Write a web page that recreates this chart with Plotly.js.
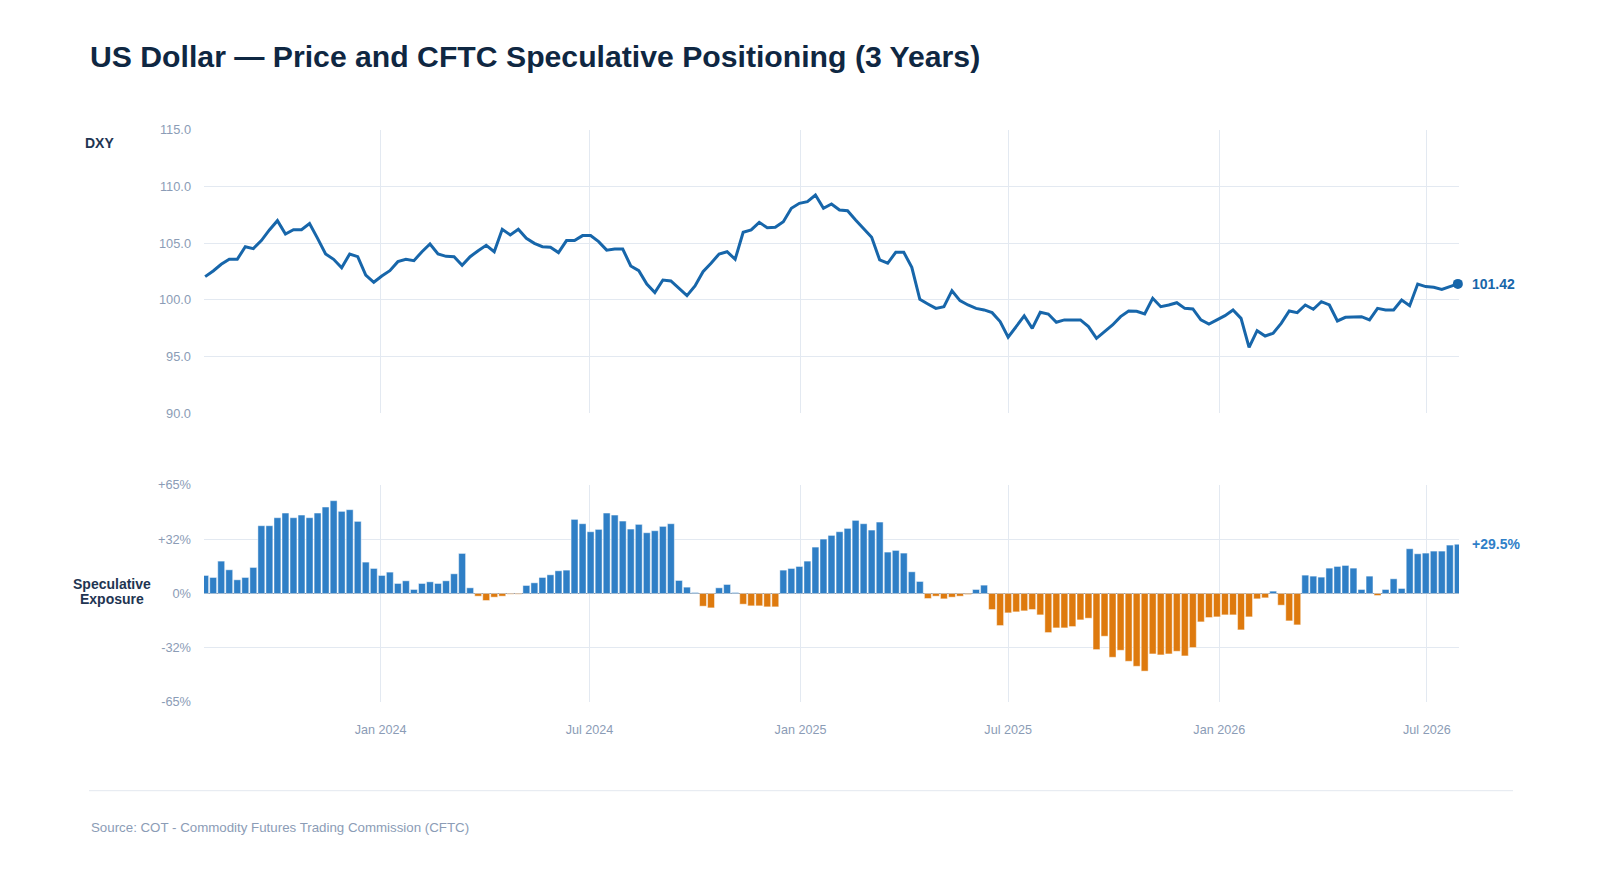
<!DOCTYPE html>
<html>
<head>
<meta charset="utf-8">
<script src="https://cdn.plot.ly/plotly-3.0.1.min.js"></script>
<style>
  html, body { margin: 0; padding: 0; background: #ffffff; }
  #chart { width: 1600px; height: 889px; }
</style>
</head>
<body>
<div id="chart"></div>
<script>
// ---- Data (weekly, COT report Tuesdays) ----
const startDate = '2023-08-01';   // first weekly observation
const weekCount = 157;            // number of weekly observations

const dxyValues = [
  102.06, 102.56, 103.15, 103.59, 103.59, 104.70, 104.53, 105.24, 106.18, 107.00,
  105.82, 106.20, 106.20, 106.74, 105.44, 104.06, 103.59, 102.85, 104.06, 103.82,
  102.20, 101.56, 102.12, 102.59, 103.38, 103.59, 103.47, 104.26, 104.94, 104.06,
  103.85, 103.82, 103.06, 103.82, 104.35, 104.82, 104.26, 106.24, 105.74, 106.24,
  105.44, 105.00, 104.70, 104.65, 104.18, 105.24, 105.24, 105.68, 105.68, 105.15,
  104.40, 104.50, 104.50, 103.00, 102.59, 101.41, 100.65, 101.76, 101.68, 101.03,
  100.38, 101.24, 102.50, 103.24, 104.06, 104.26, 103.59, 105.97, 106.18, 106.85,
  106.38, 106.41, 106.91, 108.09, 108.53, 108.68, 109.26, 108.09, 108.47, 107.94,
  107.88, 107.06, 106.26, 105.53, 103.53, 103.24, 104.21, 104.21, 102.88, 100.06,
  99.65, 99.26, 99.41, 100.82, 99.94, 99.56, 99.26, 99.12, 98.88, 98.10,
  96.71, 97.65, 98.59, 97.50, 98.91, 98.76, 98.03, 98.24, 98.24, 98.24,
  97.65, 96.62, 97.21, 97.79, 98.53, 99.03, 99.00, 98.76, 100.15, 99.41,
  99.56, 99.76, 99.26, 99.21, 98.24, 97.88, 98.24, 98.62, 99.12, 98.38,
  95.82, 97.29, 96.82, 97.06, 97.94, 99.03, 98.88, 99.56, 99.18, 99.85,
  99.56, 98.15, 98.47, 98.53, 98.53, 98.24, 99.26, 99.12, 99.12, 100.00,
  99.50, 101.41, 101.18, 101.12, 100.94, 101.18, 101.42
];

const exposureValues = [
  10.8, 9.6, 19.4, 14.2, 8.2, 9.6, 15.6, 40.6, 40.6, 45.4,
  48.2, 45.4, 47.0, 45.4, 48.2, 51.8, 55.6, 49.2, 50.2, 43.2,
  18.8, 15.0, 10.8, 12.8, 6.0, 7.6, 2.4, 6.0, 7.0, 6.0,
  7.6, 11.8, 24.0, 3.4, -1.6, -4.2, -2.2, -1.6, -0.4, -0.4,
  4.8, 6.4, 9.6, 11.2, 13.6, 14.0, 44.4, 41.8, 37.0, 38.4,
  48.2, 47.0, 43.4, 38.6, 41.4, 36.4, 37.6, 40.2, 41.8, 7.8,
  3.8, 0.6, -7.6, -8.6, 3.4, 5.4, 0.6, -6.4, -7.4, -7.4,
  -8.0, -8.0, 14.0, 15.0, 16.2, 19.4, 27.8, 32.6, 34.8, 37.0,
  39.0, 43.8, 41.8, 38.0, 42.8, 24.8, 25.8, 24.2, 13.0, 7.2,
  -3.0, -1.6, -3.2, -2.2, -1.6, -0.6, 2.4, 5.0, -9.6, -19.2,
  -11.6, -11.0, -10.4, -9.6, -12.8, -23.4, -20.6, -20.6, -19.8, -15.8,
  -14.8, -33.6, -25.6, -38.2, -34.0, -40.6, -43.6, -46.5, -36.2, -36.8,
  -36.2, -34.6, -37.4, -32.4, -17.0, -14.4, -14.0, -12.8, -12.8, -21.8,
  -14.0, -3.2, -2.6, 1.4, -7.0, -16.4, -18.8, 11.0, 10.4, 9.8,
  15.2, 16.2, 16.8, 15.2, 2.4, 10.4, -1.2, 2.4, 8.8, 3.0,
  26.8, 23.8, 24.2, 25.4, 25.4, 29.0, 29.5
];

const dxyTickVals = [90, 95, 100, 105, 110, 115];
const exposureTickVals = [-65, -32.5, 0, 32.5, 65];
const exposureTickText = ['-65%', '-32%', '0%', '+32%', '+65%'];

const titleText = 'US Dollar — Price and CFTC Speculative Positioning (3 Years)';
const sourceText = 'Source: COT - Commodity Futures Trading Commission (CFTC)';

// ---- Build weekly date categories ----
const weekDates = [];
{
  const d0 = new Date(startDate + 'T00:00:00Z');
  for (let i = 0; i < weekCount; i++) {
    const d = new Date(d0.getTime() + i * 7 * 86400000);
    weekDates.push(d.toISOString().slice(0, 10));
  }
}

const BLUE_LINE = '#1766aa';
const BLUE_BAR = '#2f7fc6';
const ORANGE_BAR = '#de7a0e';
const GRID = '#e3e9f1';
const TICK = '#8b9cb6';
const NAVY = '#1f3552';

const barColors = exposureValues.map(v => v >= 0 ? BLUE_BAR : ORANGE_BAR);
const lastIdx = weekCount - 1;
const lastDate = weekDates[lastIdx];
const lastDxy = dxyValues[lastIdx];
const lastExp = exposureValues[lastIdx];

const data = [
  {
    type: 'scatter', mode: 'lines',
    x: weekDates, y: dxyValues,
    xaxis: 'x2', yaxis: 'y2',
    line: { color: BLUE_LINE, width: 3 },
    hoverinfo: 'skip'
  },
  {
    type: 'scatter', mode: 'markers',
    x: [lastDate], y: [lastDxy],
    xaxis: 'x2', yaxis: 'y2',
    marker: { color: BLUE_LINE, size: 10 },
    cliponaxis: false,
    hoverinfo: 'skip'
  },
  {
    type: 'bar',
    x: weekDates, y: exposureValues,
    xaxis: 'x', yaxis: 'y',
    marker: { color: barColors, line: { color: 'rgba(255,255,255,0.45)', width: 1 } },
    hoverinfo: 'skip'
  }
];

// pixel helpers for paper coordinates
const PL = 204, PR = 1459, PT = 130, PB = 702;
const px = v => (v - PL) / (PR - PL);
const py = v => (PB - v) / (PB - PT);

const layout = {
  width: 1600, height: 889,
  margin: { l: PL, r: 1600 - PR, t: PT, b: 889 - PB, pad: 0 },
  paper_bgcolor: '#ffffff', plot_bgcolor: '#ffffff',
  font: { family: '"Liberation Sans", Arial, Helvetica, sans-serif', color: TICK },
  showlegend: false,
  bargap: 0.14,
  title: {
    text: titleText,
    xref: 'container', yref: 'container',
    x: 90 / 1600, xanchor: 'left',
    y: 1 - 56 / 889, yanchor: 'middle',
    font: { size: 30.2, color: '#0f2742', weight: 700 }
  },
  xaxis: {
    type: 'date', anchor: 'y', domain: [0, 1],
    range: ['2023-07-31', '2026-07-29'],
    tick0: '2024-01-01', dtick: 'M6', tickformat: '%b %Y',
    showgrid: true, gridcolor: GRID, gridwidth: 1,
    zeroline: false, showline: false, ticks: '',
    tickfont: { size: 12.6, color: TICK },
    ticklabelstandoff: 18
  },
  xaxis2: {
    type: 'date', anchor: 'y2', matches: 'x',
    tick0: '2024-01-01', dtick: 'M6',
    showgrid: true, gridcolor: GRID, gridwidth: 1,
    showticklabels: false, zeroline: false, showline: false, ticks: ''
  },
  yaxis: {
    domain: [0, py(485)], range: [-65, 65],
    tickvals: exposureTickVals, ticktext: exposureTickText,
    showgrid: true, gridcolor: GRID, gridwidth: 1,
    zeroline: true, zerolinecolor: '#75859a', zerolinewidth: 1.5,
    showline: false, ticks: '',
    tickfont: { size: 12.8, color: TICK },
    ticklabelstandoff: 12
  },
  yaxis2: {
    domain: [py(413.3), 1], range: [90, 115],
    tickvals: dxyTickVals, tickformat: '.1f',
    showgrid: true, gridcolor: GRID, gridwidth: 1,
    zeroline: false, showline: false, ticks: '',
    tickfont: { size: 12.8, color: TICK },
    ticklabelstandoff: 12
  },
  annotations: [
    { text: 'DXY', xref: 'paper', yref: 'paper', x: px(83), y: py(143),
      xanchor: 'left', yanchor: 'middle', showarrow: false,
      font: { size: 14, color: NAVY, weight: 700 } },
    { text: 'Speculative', xref: 'paper', yref: 'paper', x: px(112), y: py(584),
      xanchor: 'center', yanchor: 'middle', showarrow: false,
      font: { size: 14, color: NAVY, weight: 700 } },
    { text: 'Exposure', xref: 'paper', yref: 'paper', x: px(112), y: py(599),
      xanchor: 'center', yanchor: 'middle', showarrow: false,
      font: { size: 14, color: NAVY, weight: 700 } },
    { text: lastDxy.toFixed(2), xref: 'x2', yref: 'y2', x: lastDate, y: lastDxy,
      xanchor: 'left', yanchor: 'middle', xshift: 12, showarrow: false,
      font: { size: 14, color: '#1766aa', weight: 700 } },
    { text: (lastExp >= 0 ? '+' : '') + lastExp.toFixed(1) + '%', xref: 'x', yref: 'y',
      x: lastDate, y: lastExp,
      xanchor: 'left', yanchor: 'middle', xshift: 12, showarrow: false,
      font: { size: 14, color: '#2f80c8', weight: 700 } },
    { text: sourceText, xref: 'paper', yref: 'paper', x: px(89), y: py(827),
      xanchor: 'left', yanchor: 'middle', showarrow: false,
      font: { size: 13.3, color: TICK } }
  ],
  shapes: [
    { type: 'line', xref: 'paper', yref: 'paper',
      x0: px(89), x1: px(1513), y0: py(790.7), y1: py(790.7),
      line: { color: '#e3e8ef', width: 1 } }
  ]
};

Plotly.newPlot('chart', data, layout, { displayModeBar: false, staticPlot: true });
</script>
</body>
</html>
